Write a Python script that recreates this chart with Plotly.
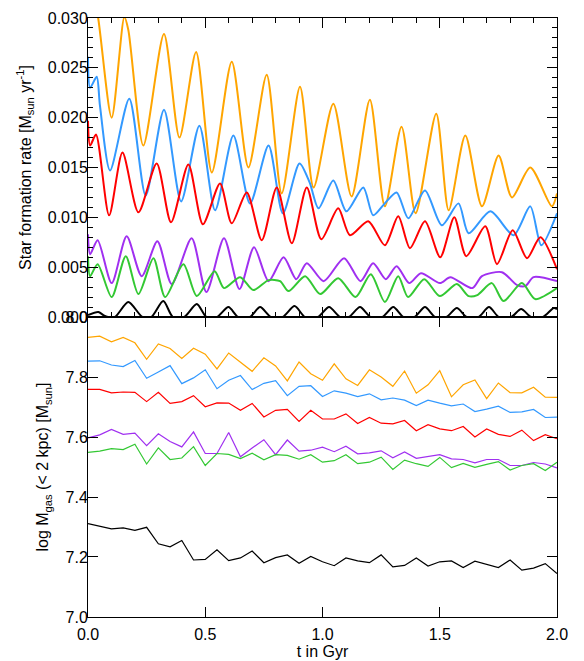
import plotly.graph_objects as go

# ---------------- Top panel: star formation rate (Msun/yr) ----------------
orange_sfr_t = [0.0, 0.044, 0.101, 0.155, 0.172, 0.236, 0.324, 0.390, 0.461, 0.528, 0.613, 0.684,
                0.762, 0.826, 0.904, 0.962, 1.046, 1.124, 1.202, 1.266, 1.337, 1.397, 1.485, 1.538,
                1.609, 1.680, 1.751, 1.808, 1.886, 1.978, 2.0]
orange_sfr = [0.036, 0.0299, 0.0200, 0.0301, 0.0288, 0.0172, 0.0284, 0.0180, 0.0266, 0.0145, 0.0256, 0.0150,
              0.0243, 0.0124, 0.0231, 0.0130, 0.0214, 0.0121, 0.0218, 0.0111, 0.0191, 0.0104, 0.0204, 0.0107,
              0.0182, 0.0111, 0.0162, 0.0120, 0.0150, 0.0111, 0.0124]

blue_sfr_t = [0.0, 0.009, 0.037, 0.051, 0.094, 0.176, 0.246, 0.324, 0.397, 0.475, 0.542, 0.620, 0.691,
              0.770, 0.831, 0.902, 0.945, 0.983, 1.046, 1.102, 1.174, 1.216, 1.262, 1.316, 1.366, 1.437,
              1.509, 1.580, 1.623, 1.716, 1.815, 1.886, 1.933, 2.0]
blue_sfr = [0.0261, 0.0230, 0.0241, 0.0212, 0.0147, 0.0219, 0.0122, 0.0208, 0.0116, 0.0192, 0.0107, 0.0182, 0.0114,
            0.0172, 0.0104, 0.0154, 0.0135, 0.0109, 0.0137, 0.0106, 0.0130, 0.0102, 0.0113, 0.0125, 0.0099, 0.0127,
            0.0092, 0.0114, 0.0084, 0.0106, 0.0082, 0.0111, 0.0072, 0.0104]

red_sfr_t = [0.0, 0.009, 0.034, 0.090, 0.147, 0.215, 0.293, 0.354, 0.428, 0.490, 0.563, 0.613, 0.677,
             0.741, 0.805, 0.869, 0.933, 0.995, 1.067, 1.117, 1.195, 1.266, 1.323, 1.373, 1.437, 1.502,
             1.562, 1.613, 1.694, 1.744, 1.811, 1.872, 1.929, 2.0]
red_sfr = [0.0197, 0.0172, 0.0183, 0.0102, 0.0165, 0.0105, 0.0154, 0.0095, 0.0153, 0.0093, 0.0134, 0.0094, 0.0125,
           0.0077, 0.0130, 0.0074, 0.0130, 0.0078, 0.0109, 0.0082, 0.0096, 0.0072, 0.0101, 0.0069, 0.0096, 0.0060,
           0.0100, 0.0061, 0.0091, 0.0053, 0.0087, 0.0059, 0.0080, 0.0048]

purple_sfr_t = [0.0, 0.009, 0.041, 0.101, 0.165, 0.229, 0.296, 0.357, 0.442, 0.505, 0.580, 0.646, 0.708,
                0.770, 0.834, 0.888, 0.933, 1.005, 1.092, 1.162, 1.216, 1.270, 1.316, 1.370, 1.420, 1.501,
                1.545, 1.639, 1.680, 1.765, 1.830, 1.865, 1.900, 2.0]
purple_sfr = [0.0083, 0.0063, 0.0077, 0.0034, 0.0081, 0.0041, 0.0076, 0.0033, 0.0079, 0.0025, 0.0079, 0.0028, 0.0070,
              0.0036, 0.0060, 0.0038, 0.0054, 0.0036, 0.0059, 0.0036, 0.0054, 0.0038, 0.0051, 0.0034, 0.0044, 0.0034,
              0.0040, 0.0029, 0.0041, 0.0045, 0.0032, 0.0031, 0.0040, 0.0036]

green_sfr_t = [0.0, 0.009, 0.041, 0.101, 0.161, 0.215, 0.279, 0.329, 0.407, 0.464, 0.540, 0.580, 0.649,
               0.705, 0.770, 0.819, 0.855, 0.926, 0.990, 1.067, 1.141, 1.206, 1.266, 1.323, 1.365, 1.434,
               1.500, 1.573, 1.623, 1.660, 1.722, 1.772, 1.850, 1.907, 2.0]
green_sfr = [0.0061, 0.0041, 0.0053, 0.0020, 0.0061, 0.0023, 0.0059, 0.0020, 0.0053, 0.0021, 0.0046, 0.0029, 0.0040,
             0.0027, 0.0037, 0.0036, 0.0026, 0.0041, 0.0023, 0.0039, 0.0020, 0.0043, 0.0015, 0.0041, 0.0020, 0.0038,
             0.0021, 0.0033, 0.0021, 0.0022, 0.0034, 0.0016, 0.0034, 0.0018, 0.0029]

black_sfr_t = [0.0, 0.044, 0.065, 0.085, 0.115, 0.172, 0.232, 0.270, 0.321, 0.362, 0.410, 0.464, 0.505,
               0.550, 0.599, 0.640, 0.690, 0.734, 0.780, 0.830, 0.881, 0.925, 0.980, 1.028, 1.075,
               1.112, 1.160, 1.205, 1.255, 1.302, 1.345, 1.392, 1.437, 1.480, 1.528, 1.573, 1.615,
               1.665, 1.710, 1.752, 1.805, 1.847, 1.890, 1.940, 1.986, 2.0]
black_sfr = [0.0002, 0.0005, 0.0002, 0.0, 0.0, 0.0015, 0.0, 0.0, 0.0016, 0.0, 0.0, 0.0013, 0.0,
             0.0, 0.0010, 0.0, 0.0, 0.0010, 0.0, 0.0, 0.0011, 0.0, 0.0, 0.0010, 0.0,
             0.0, 0.0010, 0.0, 0.0, 0.0010, 0.0, 0.0, 0.0010, 0.0, 0.0, 0.0009, 0.0,
             0.0, 0.0010, 0.0, 0.0, 0.0008, 0.0, 0.0, 0.0009, 0.0008]

# ---------------- Bottom panel: log gas mass within 2 kpc ----------------
t_gas = [0.00, 0.05, 0.10, 0.15, 0.20, 0.25, 0.30, 0.35, 0.40, 0.45, 0.50, 0.55, 0.60, 0.65,
         0.70, 0.75, 0.80, 0.85, 0.90, 0.95, 1.00, 1.05, 1.10, 1.15, 1.20, 1.25, 1.30, 1.35,
         1.40, 1.45, 1.50, 1.55, 1.60, 1.65, 1.70, 1.75, 1.80, 1.85, 1.90, 1.95, 2.00]
orange_gas = [7.932, 7.936, 7.917, 7.932, 7.914, 7.859, 7.910, 7.895, 7.862, 7.896, 7.876, 7.827, 7.880, 7.850,
              7.819, 7.864, 7.837, 7.787, 7.850, 7.811, 7.789, 7.844, 7.794, 7.772, 7.824, 7.800, 7.769, 7.820,
              7.746, 7.774, 7.821, 7.734, 7.774, 7.790, 7.728, 7.780, 7.748, 7.747, 7.766, 7.733, 7.732]
blue_gas = [7.853, 7.854, 7.840, 7.835, 7.855, 7.796, 7.817, 7.838, 7.778, 7.797, 7.824, 7.761, 7.789, 7.805,
            7.758, 7.779, 7.788, 7.738, 7.769, 7.771, 7.735, 7.754, 7.746, 7.735, 7.744, 7.724, 7.730, 7.723,
            7.705, 7.723, 7.713, 7.704, 7.710, 7.685, 7.693, 7.703, 7.682, 7.684, 7.692, 7.665, 7.666]
red_gas = [7.759, 7.759, 7.747, 7.750, 7.749, 7.718, 7.749, 7.712, 7.718, 7.738, 7.701, 7.714, 7.713, 7.689,
           7.712, 7.667, 7.689, 7.692, 7.652, 7.689, 7.660, 7.660, 7.677, 7.645, 7.665, 7.646, 7.644, 7.655,
           7.621, 7.641, 7.627, 7.621, 7.635, 7.600, 7.627, 7.609, 7.602, 7.623, 7.588, 7.608, 7.594]
purple_gas = [7.597, 7.607, 7.625, 7.609, 7.613, 7.571, 7.611, 7.585, 7.567, 7.617, 7.545, 7.545, 7.615, 7.534,
              7.563, 7.591, 7.541, 7.590, 7.553, 7.556, 7.566, 7.551, 7.569, 7.544, 7.547, 7.554, 7.531, 7.550,
              7.529, 7.536, 7.541, 7.527, 7.525, 7.514, 7.525, 7.525, 7.505, 7.505, 7.515, 7.510, 7.497]
green_gas = [7.549, 7.553, 7.561, 7.558, 7.576, 7.510, 7.564, 7.525, 7.530, 7.568, 7.505, 7.545, 7.542, 7.528,
             7.546, 7.524, 7.541, 7.539, 7.526, 7.541, 7.516, 7.521, 7.541, 7.511, 7.516, 7.533, 7.492, 7.523,
             7.511, 7.502, 7.532, 7.498, 7.512, 7.499, 7.509, 7.518, 7.490, 7.505, 7.511, 7.488, 7.516]
black_gas = [7.311, 7.302, 7.294, 7.297, 7.289, 7.299, 7.244, 7.234, 7.255, 7.190, 7.192, 7.224, 7.188, 7.197,
             7.220, 7.181, 7.198, 7.207, 7.179, 7.202, 7.184, 7.171, 7.197, 7.187, 7.181, 7.207, 7.167, 7.172,
             7.197, 7.170, 7.184, 7.187, 7.165, 7.186, 7.175, 7.165, 7.190, 7.156, 7.163, 7.178, 7.145]

COL = {"orange": "#FFA500", "blue": "#3399FF", "red": "#FF0000",
       "purple": "#A030F0", "green": "#33C833", "black": "#000000"}

sfr_series = [
    ("orange", orange_sfr_t, orange_sfr), ("blue", blue_sfr_t, blue_sfr), ("red", red_sfr_t, red_sfr),
    ("purple", purple_sfr_t, purple_sfr), ("green", green_sfr_t, green_sfr), ("black", black_sfr_t, black_sfr),
]
gas_series = [
    ("orange", orange_gas), ("blue", blue_gas), ("red", red_gas),
    ("purple", purple_gas), ("green", green_gas), ("black", black_gas),
]

fig = go.Figure()
for name, tt, yy in sfr_series:
    fig.add_trace(go.Scatter(x=tt, y=yy, mode="lines", xaxis="x2", yaxis="y2",
                             line=dict(color=COL[name], width=2, shape="spline", smoothing=0.75),
                             showlegend=False, hoverinfo="skip"))
for name, yy in gas_series:
    fig.add_trace(go.Scatter(x=t_gas, y=yy, mode="lines", xaxis="x", yaxis="y",
                             line=dict(color=COL[name], width=1.2),
                             showlegend=False, hoverinfo="skip"))

FONT = "Liberation Sans, Arial, Helvetica, sans-serif"
axis_common = dict(showline=True, linecolor="black", linewidth=1, mirror="allticks",
                   ticks="inside", tickcolor="black", ticklen=10, tickwidth=1,
                   showgrid=False, zeroline=False,
                   tickfont=dict(family=FONT, size=16, color="black"))

# page body has an 8px default margin: the plot area should span x 88..557, y 10..617 on screen
M_L, M_R, M_T, M_B = 80, 35, 2, 52
plot_h = 661 - M_T - M_B
split = (617 - 313) / plot_h  # fraction of plot height below panel boundary

fig.update_layout(
    width=584, height=661,
    margin=dict(l=M_L, r=M_R, t=M_T, b=M_B),
    paper_bgcolor="white", plot_bgcolor="white",
    font=dict(family=FONT, size=16, color="black"),
    xaxis=dict(**axis_common, range=[0, 2], dtick=0.5, tick0=0, tickformat=".1f",
               ticklabelstandoff=3,
               anchor="y", domain=[0, 1],
               title=dict(text="t in Gyr", font=dict(family=FONT, size=16), standoff=1)),
    yaxis=dict(**axis_common, range=[7.0, 8.0], dtick=0.2, tick0=7.0, tickformat=".1f",
               ticklabelstandoff=-4,
               domain=[0, split], anchor="x",
               title=dict(text="log M<sub>gas</sub> (&lt; 2 kpc) [M<sub>sun</sub>]",
                          font=dict(family=FONT, size=16), standoff=12)),
    xaxis2=dict(**axis_common, range=[0, 2], dtick=0.5, tick0=0, showticklabels=False,
                minor=dict(ticks="inside", dtick=0.1, ticklen=5, tickcolor="black"),
                anchor="y2", matches="x"),
    yaxis2=dict(**axis_common, range=[0, 0.030], dtick=0.005, tick0=0, tickformat=".3f",
                ticklabelstandoff=-4,
                minor=dict(ticks="inside", dtick=0.001, ticklen=5, tickcolor="black"),
                domain=[split, 1], anchor="x2",
                title=dict(text="Star formation rate [M<sub>sun</sub> yr<sup>-1</sup>]",
                           font=dict(family=FONT, size=16), standoff=12)),
)

fig.write_html("out.html")
